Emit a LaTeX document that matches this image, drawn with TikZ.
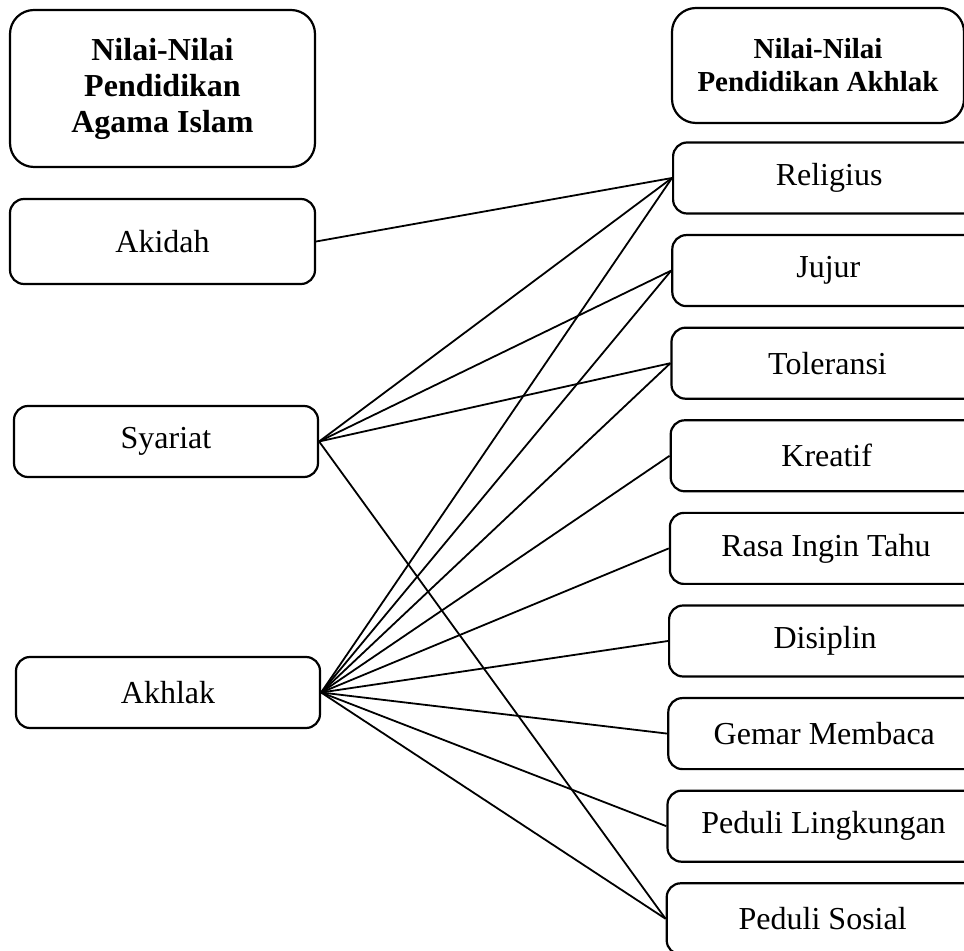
\documentclass[tikz,border=0pt]{standalone}
\usepackage{fontspec}
\setmainfont{Liberation Serif}
\usetikzlibrary{positioning}

\tikzset{
  nilai/.style={draw, line width=1.1pt, rounded corners=7pt, align=center,
    inner sep=0pt, font=\fontsize{16}{18}\selectfont},
  judul/.style={nilai, rounded corners=12pt},
  garis/.style={line width=0.9pt},
}

\begin{document}
\begin{tikzpicture}[x=0.5pt,y=-0.5pt]

\useasboundingbox (0,0) rectangle (964,951);
\clip (0,0) rectangle (964,951);

% kolom kiri
\node[judul, minimum width=152.5pt, minimum height=78.5pt,
  font=\bfseries\fontsize{16}{18}\selectfont] (pai) at (162.5,88.5)
  {Nilai-Nilai\\Pendidikan\\Agama Islam};
\node[nilai, minimum width=152.5pt, minimum height=42.5pt] (akidah) at (162.5,241.5) {Akidah};
\node[nilai, minimum width=152pt, minimum height=35.5pt] (syariat) at (166,441.5) {Syariat};
\node[nilai, minimum width=152pt, minimum height=35.5pt] (akhlak) at (168,692.5) {Akhlak};

% kolom kanan
\node[judul, minimum width=146pt, minimum height=57.5pt,
  font=\bfseries\fontsize{14.5}{16.5}\selectfont] (pak) at (818,65.5)
  {Nilai-Nilai\\Pendidikan Akhlak};

\foreach \nama/\teks [count=\i] in {religius/Religius, jujur/Jujur,
    toleransi/Toleransi, kreatif/Kreatif, ingintahu/Rasa Ingin Tahu,
    disiplin/Disiplin, membaca/Gemar Membaca,
    lingkungan/Peduli Lingkungan, sosial/Peduli Sosial} {
  \pgfmathsetmacro\yy{178+(\i-1)*92.6}
  \pgfmathsetmacro\xx{672-0.8*(\i-1)}
  \node[nilai, anchor=west, minimum width=156pt, minimum height=35.5pt]
    (\nama) at (\xx,\yy) {\teks};
}

% garis penghubung
\draw[garis] (akidah.east) -- (religius.west);

\foreach \t in {religius,jujur,toleransi,sosial}
  \draw[garis] (syariat.east) -- (\t.west);

\foreach \t in {religius,jujur,toleransi,kreatif,ingintahu,disiplin,membaca,lingkungan,sosial}
  \draw[garis] (akhlak.east) -- (\t.west);

\end{tikzpicture}
\end{document}
